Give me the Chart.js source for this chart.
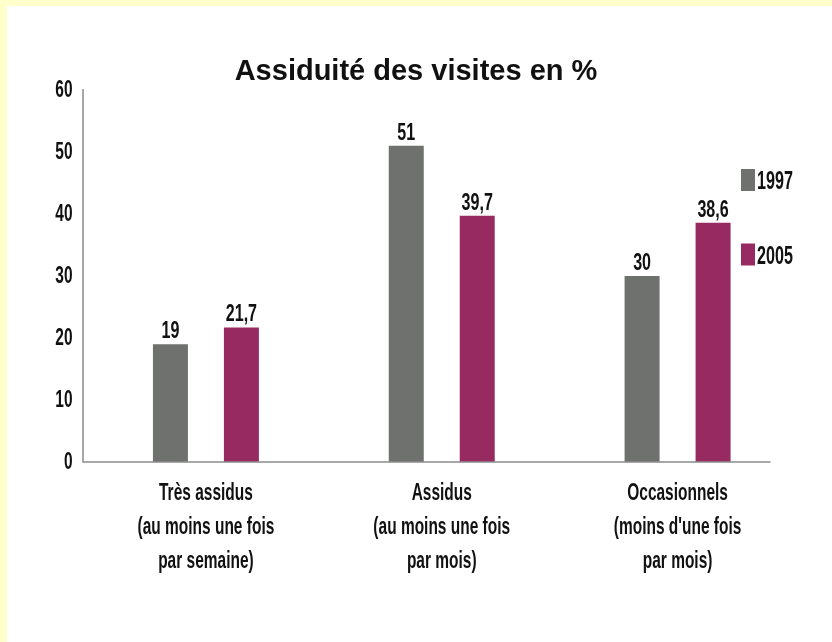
<!DOCTYPE html>
<html>
<head>
<meta charset="utf-8">
<script src="https://cdn.jsdelivr.net/npm/chart.js@4/dist/chart.umd.min.js"></script>
<style>
  html, body { margin: 0; padding: 0; background: #ffffcc; width: 832px; height: 642px; overflow: hidden; }
  #wrap { position: absolute; left: 7px; top: 6px; width: 825px; height: 636px; background: #ffffff; }
  canvas { display: block; }
</style>
</head>
<body>
<div id="wrap"><canvas id="c" width="825" height="636"></canvas></div>
<script>
const categories = [
  ["Très assidus", "(au moins une fois", "par semaine)"],
  ["Assidus", "(au moins une fois", "par mois)"],
  ["Occasionnels", "(moins d'une fois", "par mois)"]
];
const seriesNames = ["1997", "2005"];
const values1997 = [19, 51, 30];
const values2005 = [21.7, 39.7, 38.6];
const yTicks = [0, 10, 20, 30, 40, 50, 60];
const titleText = "Assiduité des visites en %";

const COL_GRAY = "#6f716e";
const COL_PURPLE = "#982a62";
const SANS = "'Liberation Sans', Arial, Helvetica, sans-serif";
const SX = 0.645; // horizontal condensing of the label font

function fmt(v) { return String(v).replace('.', ','); }

function condensedText(ctx, text, x, y, sx) {
  ctx.save();
  ctx.translate(x, y);
  ctx.scale(sx || SX, 1);
  ctx.fillText(text, 0, 0);
  ctx.restore();
}

const condensePlugin = {
  id: 'condense',
  beforeDraw(chart) {
    Object.values(chart.scales).forEach(s => {
      if (s._condensed) return;
      s._condensed = true;
      const orig = s.drawLabels.bind(s);
      s.drawLabels = function (area) {
        const ctx = this.ctx;
        const of = CanvasRenderingContext2D.prototype.fillText;
        ctx.fillText = function (t, x, y, mw) {
          this.save();
          this.translate(x, y);
          this.scale(SX, 1);
          if (mw !== undefined) of.call(this, t, 0, 0, mw / SX); else of.call(this, t, 0, 0);
          this.restore();
        };
        try { orig(area); } finally { delete ctx.fillText; }
      };
    });
  }
};

const decorPlugin = {
  id: 'decor',
  afterDatasetsDraw(chart) {
    const ctx = chart.ctx;
    const a = chart.chartArea;
    const ys = chart.scales.y;
    // axis lines
    ctx.save();
    ctx.strokeStyle = '#8c8c8c';
    ctx.lineWidth = 1.5;
    ctx.beginPath();
    const ax = a.left - 5;
    ctx.moveTo(ax, ys.getPixelForValue(60) - 1);
    ctx.lineTo(ax, ys.getPixelForValue(0));
    ctx.lineTo(a.right - 25, ys.getPixelForValue(0));
    ctx.stroke();
    ctx.restore();
    // value labels
    ctx.save();
    ctx.fillStyle = '#111';
    ctx.font = "bold 24px " + SANS;
    ctx.textAlign = 'center';
    ctx.textBaseline = 'alphabetic';
    chart.data.datasets.forEach((ds, di) => {
      const meta = chart.getDatasetMeta(di);
      meta.data.forEach((bar, i) => {
        condensedText(ctx, fmt(ds.data[i]), bar.x, bar.y - 6, 0.67);
      });
    });
    ctx.restore();
    // legend
    ctx.save();
    ctx.font = "bold 26px " + SANS;
    ctx.textAlign = 'left';
    ctx.textBaseline = 'alphabetic';
    const lx = 734, lys = [174, 248.5];
    chart.data.datasets.forEach((ds, di) => {
      ctx.fillStyle = ds.backgroundColor;
      ctx.fillRect(lx, lys[di] - 11, 14, 22);
      ctx.fillStyle = '#111';
      condensedText(ctx, ds.label, lx + 16, lys[di] + 9, 0.62);
    });
    ctx.restore();
  }
};

new Chart(document.getElementById('c'), {
  type: 'bar',
  data: {
    labels: categories,
    datasets: [
      { label: seriesNames[0], data: values1997, backgroundColor: COL_GRAY, categoryPercentage: 0.602, barPercentage: 0.493 },
      { label: seriesNames[1], data: values2005, backgroundColor: COL_PURPLE, categoryPercentage: 0.602, barPercentage: 0.493 }
    ]
  },
  options: {
    responsive: false,
    animation: false,
    layout: { padding: { left: 29.5, right: 36.5, top: 0, bottom: 0 } },
    plugins: {
      legend: { display: false },
      tooltip: { enabled: false },
      title: {
        display: true,
        text: titleText,
        color: '#111',
        font: { family: SANS, size: 29, weight: 'bold', lineHeight: 1.2 },
        padding: { top: 48.6, bottom: 0.6 }
      }
    },
    scales: {
      x: {
        grid: { display: false, drawTicks: false },
        border: { display: false },
        ticks: {
          color: '#111',
          padding: 14.5,
          maxRotation: 0,
          autoSkip: false,
          font: { family: SANS, size: 24, weight: 'bold', lineHeight: 1.42 }
        },
        afterFit(s) { s.height = 180; }
      },
      y: {
        min: 0, max: 60,
        grid: { display: false, drawTicks: false },
        border: { display: false },
        afterBuildTicks(s) { s.ticks = yTicks.map(v => ({ value: v })); },
        ticks: {
          color: '#111',
          padding: 15.5,
          font: { family: SANS, size: 24, weight: 'bold' }
        },
        afterFit(s) { s.width = 51.5; }
      }
    }
  },
  plugins: [condensePlugin, decorPlugin]
});
</script>
</body>
</html>
